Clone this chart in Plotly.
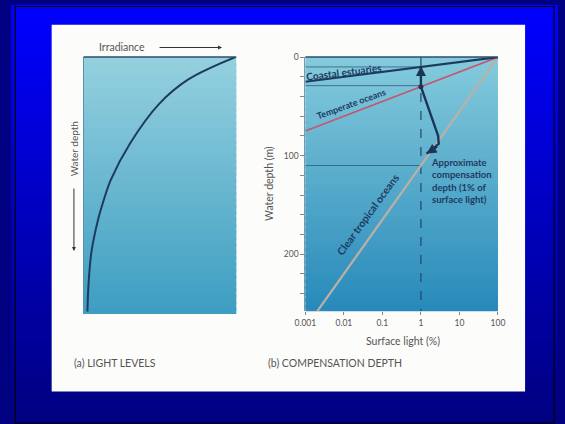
import math
import plotly.graph_objects as go

W, H = 565, 424

# ---------------- data ----------------
# (a) light levels: irradiance (relative) vs water depth (relative)
irradiance = [0.995, 0.686, 0.495, 0.304, 0.178, 0.127, 0.095, 0.051, 0.032, 0.025]
rel_depth = [0.0, 0.087, 0.182, 0.336, 0.478, 0.566, 0.632, 0.759, 0.886, 0.99]

# (b) compensation depth: surface light (%) vs water depth (m)
light_ends = [0.001, 100]
coastal_depth = [25, 0]
temperate_depth = [75, 0]
clear_depth = [275, 0]
comp_depths = [10, 29, 110]
comp_light = [0.001, 1]
path_light = [1.0, 1.0, 2.8, 2.9, 1.4]
path_depth = [9, 30, 80, 88, 98]
x_tickvals = [0.001, 0.01, 0.1, 1, 10, 100]
x_ticktext = ["0.001", "0.01", "0.1", "1", "10", "100"]
y_tickvals = list(range(0, 260, 20))
y_ticktext = ["0" if v == 0 else ("100" if v == 100 else ("200" if v == 200 else "")) for v in y_tickvals]


def px(x):
    return x / W


def py(y):
    return 1 - y / H


def lerp(c1, c2, t):
    return "rgb(%d,%d,%d)" % tuple(round(a + (b - a) * t) for a, b in zip(c1, c2))


FONT = "Lato"
DARK = "#1E3A5F"
GREY = "#555555"

# panel domains
left_x = [px(75), px(232.7)]
left_y = [py(312.7), py(52.7)]
right_x = [px(304), px(503)]
right_y = [py(310), py(52.7)]

shapes = []
# page gradient background
N = 70
for i in range(N):
    t = i / (N - 1)
    shapes.append(dict(type="rect", xref="paper", yref="paper", x0=0, x1=1,
                       y0=max(0, 1 - (i + 1) / N - 0.008), y1=1 - i / N,
                       fillcolor=lerp((0, 0, 255), (0, 0, 128), t), line_width=0, layer="below"))
# frame
shapes.append(dict(type="rect", xref="paper", yref="paper", x0=px(4.5), x1=px(561), y0=py(423), y1=py(1.5),
                   line=dict(color="black", width=1.2), layer="below"))
# white card
shapes.append(dict(type="rect", xref="paper", yref="paper", x0=px(42), x1=px(531), y0=py(391), y1=py(20),
                   fillcolor="#FCFCFA", line_width=0, layer="below"))


def panel_gradient(dx, dy, ctop, cbot, n=40):
    for i in range(n):
        t = i / (n - 1)
        y1 = dy[1] - (dy[1] - dy[0]) * i / n
        y0 = dy[1] - (dy[1] - dy[0]) * (i + 1) / n - 0.008
        shapes.append(dict(type="rect", xref="paper", yref="paper", x0=dx[0], x1=dx[1],
                           y0=max(y0, dy[0]), y1=y1, fillcolor=lerp(ctop, cbot, t),
                           line_width=0, layer="below"))


panel_gradient(left_x, left_y, (148, 208, 222), (62, 158, 194))
panel_gradient(right_x, right_y, (132, 202, 220), (40, 138, 186))

fig = go.Figure()

# (a) curve
fig.add_trace(go.Scatter(x=irradiance, y=rel_depth, mode="lines", line=dict(color=DARK, width=2, shape="spline"),
                         xaxis="x", yaxis="y", showlegend=False, hoverinfo="skip"))

# (b) horizontal compensation-depth guides
for d in comp_depths:
    fig.add_trace(go.Scatter(x=comp_light, y=[d, d], mode="lines", line=dict(color="#2E5C7C", width=0.8),
                             xaxis="x2", yaxis="y2", showlegend=False, hoverinfo="skip"))
# vertical dashed line at 1 %
fig.add_trace(go.Scatter(x=[1, 1], y=[0, 258], mode="lines", line=dict(color="#23466A", width=1.2, dash="dash"),
                         xaxis="x2", yaxis="y2", showlegend=False, hoverinfo="skip"))
# attenuation lines
fig.add_trace(go.Scatter(x=light_ends, y=clear_depth, mode="lines", line=dict(color="#BBB0A6", width=2.2),
                         xaxis="x2", yaxis="y2", showlegend=False, hoverinfo="skip"))
fig.add_trace(go.Scatter(x=light_ends, y=temperate_depth, mode="lines", line=dict(color="#C4566E", width=1.6),
                         xaxis="x2", yaxis="y2", showlegend=False, hoverinfo="skip"))
fig.add_trace(go.Scatter(x=light_ends, y=coastal_depth, mode="lines", line=dict(color=DARK, width=2.2),
                         xaxis="x2", yaxis="y2", showlegend=False, hoverinfo="skip"))
# compensation depth path
fig.add_trace(go.Scatter(x=path_light, y=path_depth, mode="lines", line=dict(color="#1C3557", width=2.4),
                         xaxis="x2", yaxis="y2", showlegend=False, hoverinfo="skip"))
fig.add_trace(go.Scatter(x=[path_light[1]], y=[path_depth[1]], mode="markers", marker=dict(color="#1C3557", size=5),
                         xaxis="x2", yaxis="y2", showlegend=False, hoverinfo="skip"))

ann = []
# arrowheads on path
ann.append(dict(xref="x2", yref="y2", axref="x2", ayref="y2", x=math.log10(path_light[0]), y=path_depth[0],
                ax=math.log10(path_light[1]), ay=path_depth[1] - 8, text="", showarrow=True,
                arrowhead=2, arrowsize=1, arrowwidth=2, arrowcolor="#1C3557"))
ann.append(dict(xref="x2", yref="y2", axref="x2", ayref="y2", x=math.log10(path_light[4]), y=path_depth[4],
                ax=math.log10(path_light[3]), ay=path_depth[3] + 2, text="", showarrow=True,
                arrowhead=2, arrowsize=1, arrowwidth=2, arrowcolor="#1C3557"))


def label(x, y, text, size=8, color=GREY, angle=0, xanchor="center", align="center"):
    ann.append(dict(xref="paper", yref="paper", x=px(x), y=py(y), text=text, showarrow=False,
                    xanchor=xanchor, yanchor="middle", align=align, textangle=angle,
                    font=dict(family=FONT, size=size, color=color)))


# line labels
label(344, 68, "<b>Coastal estuaries</b>", 10, DARK, -7)
label(352, 100, "<b>Temperate oceans</b>", 9, DARK, -20)
label(368, 212, "<b>Clear tropical oceans</b>", 10.5, DARK, -54)
label(432, 178, "<b>Approximate<br>compensation<br>depth (1% of<br>surface light)</b>", 9.5, DARK,
      xanchor="left", align="left")

# panel (a) texts
label(115, 43, "Irradiance", 10.5)
ann.append(dict(xref="paper", yref="paper", axref="pixel", ayref="pixel", x=px(218), y=py(43), ax=-64, ay=0,
                text="", showarrow=True, arrowhead=2, arrowsize=0.8, arrowwidth=1, arrowcolor="#333"))
label(65, 145, "Water depth", 10, angle=-90)
ann.append(dict(xref="paper", yref="paper", axref="pixel", ayref="pixel", x=px(65), y=py(249), ax=0, ay=-64,
                text="", showarrow=True, arrowhead=2, arrowsize=0.8, arrowwidth=1, arrowcolor="#333"))

# axis titles (b)
label(405, 340, "Surface light (%)", 10.5)
label(266.5, 181, "Water depth (m)", 10.5, angle=-90)

# captions
label(63, 362, "(a) LIGHT LEVELS", 10.5, xanchor="left")
label(263, 362, "(b) COMPENSATION DEPTH", 10.5, xanchor="left")

axis_common = dict(showgrid=False, zeroline=False, fixedrange=True)

fig.update_layout(
    width=W, height=H, margin=dict(l=0, r=0, t=0, b=0),
    paper_bgcolor="#000080", plot_bgcolor="rgba(0,0,0,0)",
    shapes=shapes, annotations=ann, showlegend=False,
    xaxis=dict(domain=left_x, range=[0, 1], showticklabels=False, ticks="", showline=False, **axis_common),
    yaxis=dict(domain=left_y, range=[1, 0], showticklabels=False, ticks="", showline=True,
               linecolor="#5E8FA8", linewidth=1, anchor="x", **axis_common),
    xaxis2=dict(domain=right_x, type="log", range=[-3, 2], tickvals=x_tickvals, ticktext=x_ticktext,
                ticks="outside", ticklen=3, tickcolor="#888", showline=False, anchor="y2",
                tickfont=dict(family=FONT, size=8.5, color=GREY), **axis_common),
    yaxis2=dict(domain=right_y, range=[258, 0], tickvals=y_tickvals, ticktext=y_ticktext,
                ticks="outside", ticklen=4, tickcolor="#888", showline=True, linecolor="#7A9AAA", linewidth=1,
                anchor="x2", tickfont=dict(family=FONT, size=8.5, color=GREY), **axis_common),
)

# top borders of panels
fig.add_shape(type="line", xref="paper", yref="paper", x0=left_x[0], x1=left_x[1], y0=left_y[1], y1=left_y[1],
              line=dict(color="#2A4F6E", width=1.5))
fig.add_shape(type="line", xref="paper", yref="paper", x0=right_x[0], x1=right_x[1], y0=right_y[1], y1=right_y[1],
              line=dict(color="#2A4F6E", width=1.5))

fig.write_html("out.html", config={"displayModeBar": False},
               post_script="document.body.style.margin='0';document.body.style.overflow='hidden';")
